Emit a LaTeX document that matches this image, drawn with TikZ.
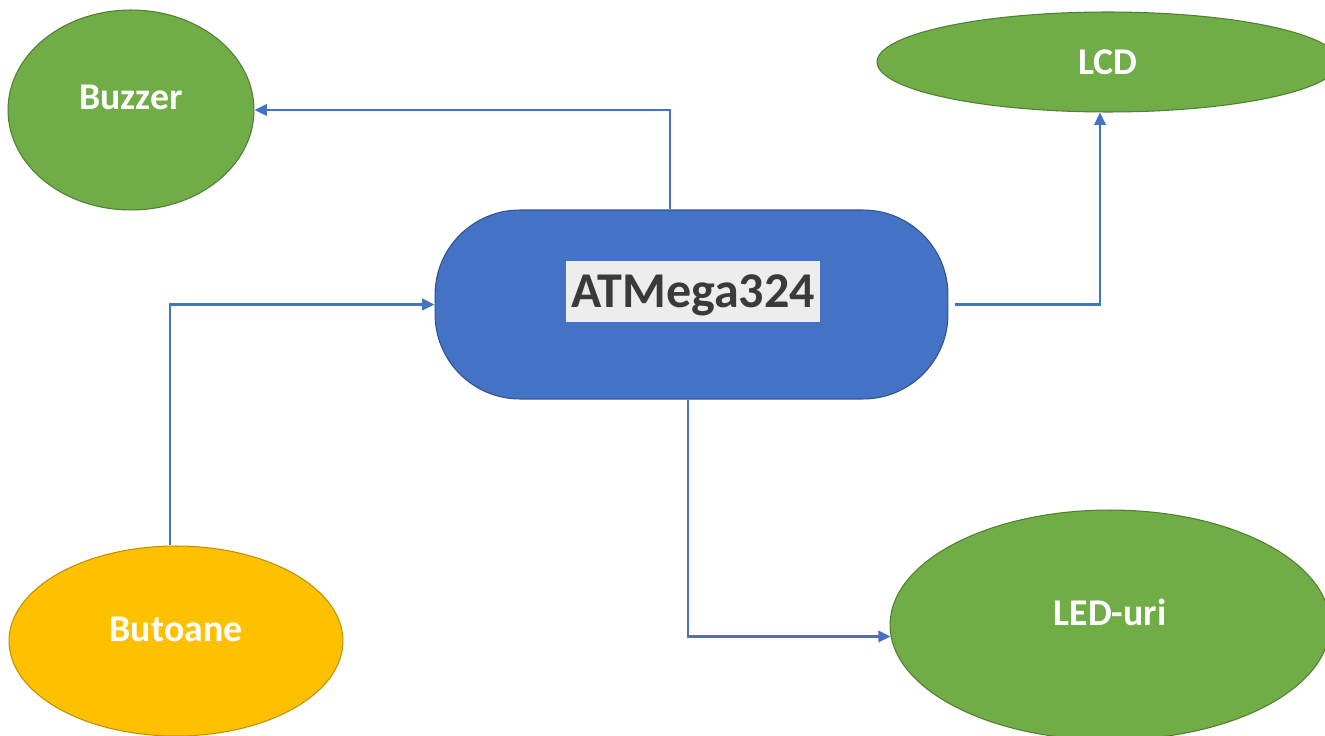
\documentclass[tikz,border=0pt]{standalone}
\usepackage{fontspec}
\setmainfont{Carlito}
\usetikzlibrary{shapes.geometric,arrows.meta}
\definecolor{offgreen}{HTML}{70AD47}
\definecolor{offgreenline}{HTML}{507E32}
\definecolor{offorange}{HTML}{FFC000}
\definecolor{offorangeline}{HTML}{BF9000}
\definecolor{offblue}{HTML}{4472C4}
\definecolor{offblueline}{HTML}{2F528F}
\definecolor{connblue}{HTML}{4472C4}
\definecolor{labelgrey}{HTML}{EDEDED}
\definecolor{labeltext}{HTML}{3A3A3A}
\tikzset{
  blob/.style={ellipse, inner sep=0pt, line width=0.6pt, text=white,
    font=\fontsize{21.5}{26}\selectfont\bfseries, text height=14pt, text depth=14pt},
  greenblob/.style={blob, fill=offgreen, draw=offgreenline},
  orangeblob/.style={blob, fill=offorange, draw=offorangeline},
  mcu/.style={rectangle, rounded corners=1.7cm, fill=offblue, draw=offblueline,
    line width=0.6pt, minimum width=10.26cm, minimum height=3.78cm},
  mculabel/.style={fill=labelgrey, text=labeltext, inner sep=0pt,
    minimum width=5.08cm, minimum height=1.22cm, text height=18pt, text depth=0pt,
    font=\fontsize{28.5}{34}\selectfont\bfseries},
  conn/.style={draw=connblue, line width=1.2pt,
    -{Triangle[length=7pt,width=6.5pt]}, fill=none}
}
\begin{document}
\begin{tikzpicture}[x=0.02cm,y=-0.02cm]
\useasboundingbox (0,0) rectangle (1325,736);
\node[greenblob, minimum width=4.92cm, minimum height=4.0cm] (buzzer) at (131,110) {Buzzer};
\node[greenblob, minimum width=9.24cm, minimum height=2.0cm, text depth=0pt] (lcd) at (1108,62) {LCD};
\node[mcu] (atmega) at (691.5,304.5) {};
\node[mculabel] (atmegalabel) at (693,291.5) {ATMega324};
\node[orangeblob, minimum width=6.68cm, minimum height=3.8cm] (butoane) at (176,641) {Butoane};
\node[greenblob, minimum width=8.8cm, minimum height=4.6cm] (led) at (1110,625) {LED-uri};

\draw[conn] ([xshift=-0.43cm]atmega.north) |- (buzzer.east);
\draw[conn] ([xshift=-0.12cm]butoane.north) |- (atmega.west);
\draw[conn] ([xshift=0.14cm]atmega.east) -| ([xshift=-0.16cm]lcd.south);
\draw[conn] ([xshift=-0.07cm]atmega.south) |- (led.183);
\end{tikzpicture}
\end{document}
